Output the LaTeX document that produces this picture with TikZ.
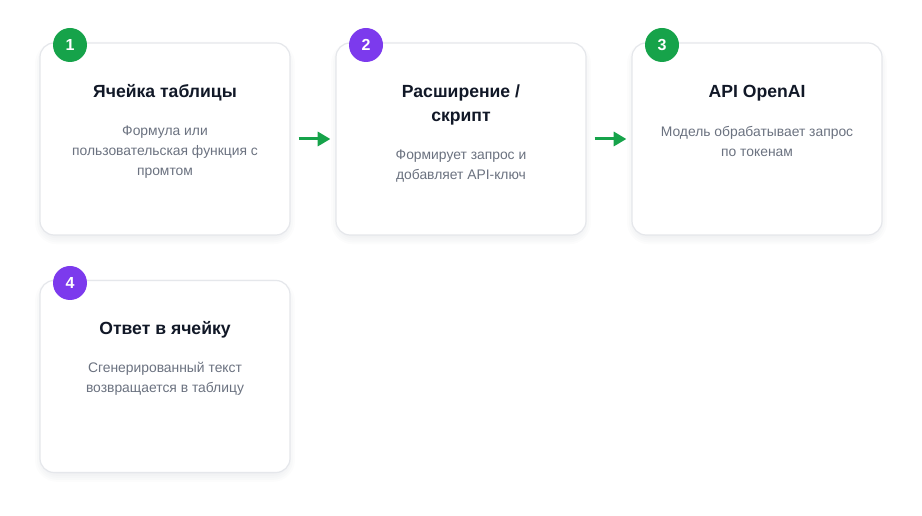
\documentclass[tikz,border=0pt]{standalone}
\usepackage{fontspec}
\setmainfont{Liberation Sans}
\usetikzlibrary{arrows.meta}
\definecolor{cardborder}{HTML}{E5E7EB}
\definecolor{titlec}{HTML}{111827}
\definecolor{bodyc}{HTML}{6B7280}
\definecolor{greenc}{HTML}{16A34A}
\definecolor{purplec}{HTML}{7C3AED}
\definecolor{shadowc}{HTML}{9CA3AF}
\tikzset{
  card/.style={draw=cardborder, line width=0.9pt, fill=white, rounded corners=10.5pt,
    minimum width=187.5pt, minimum height=144pt, inner sep=0pt},
  cardshadow/.style={fill=shadowc, rounded corners=#1, fill opacity=0.035, inner sep=0pt},
  badge/.style={circle, fill=#1, minimum size=25.5pt, inner sep=0pt, text=white,
    font=\fontsize{12pt}{12pt}\selectfont\bfseries},
  ttl/.style={text=titlec, align=center, font=\fontsize{13.2pt}{18pt}\selectfont\bfseries},
  bdy/.style={text=bodyc, align=center, font=\fontsize{10.4pt}{15pt}\selectfont},
  flow/.style={draw=greenc, line width=2.25pt,
    -{Triangle[length=9.5pt,width=10.5pt]}, shorten <=6pt, shorten >=3.75pt}
}
\begin{document}
\begin{tikzpicture}[x=0.75pt,y=-0.75pt]
\useasboundingbox (0,0) rectangle (922,516);
% shadows
\foreach \cx/\cy in {165/139, 461/139, 757/139, 165/376.5}{
  \foreach \g in {0,3,6,9,12}{
    \node[cardshadow=10.5pt+0.5*\g pt, minimum width=183pt+\g pt, minimum height=140pt+\g pt] at (\cx,\cy+4) {};
  }
}
% cards
\node[card] (c1) at (165,139) {};
\node[card] (c2) at (461,139) {};
\node[card] (c3) at (757,139) {};
\node[card] (c4) at (165,376.5) {};
% badges
\node[badge=greenc] (b1) at (70,45) {1};
\node[badge=purplec] (b2) at (366,45) {2};
\node[badge=greenc] (b3) at (662,45) {3};
\node[badge=purplec] (b4) at (70,283) {4};
% texts
\node[ttl] (t1) at (165,93) {Ячейка таблицы};
\node[bdy] (d1) at (165,152) {Формула или\\пользовательская функция с\\промтом};
\node[ttl] (t2) at (461,105) {Расширение /\\скрипт};
\node[bdy] (d2) at (461,166) {Формирует запрос и\\добавляет API-ключ};
\node[ttl] (t3) at (757,93) {API OpenAI};
\node[bdy] (d3) at (757,141.5) {Модель обрабатывает запрос\\по токенам};
\node[ttl] (t4) at (165,330) {Ответ в ячейку};
\node[bdy] (d4) at (165,379) {Сгенерированный текст\\возвращается в таблицу};
% arrows
\draw[flow] (c1.east) -- (c2.west);
\draw[flow] (c2.east) -- (c3.west);
\end{tikzpicture}
\end{document}
